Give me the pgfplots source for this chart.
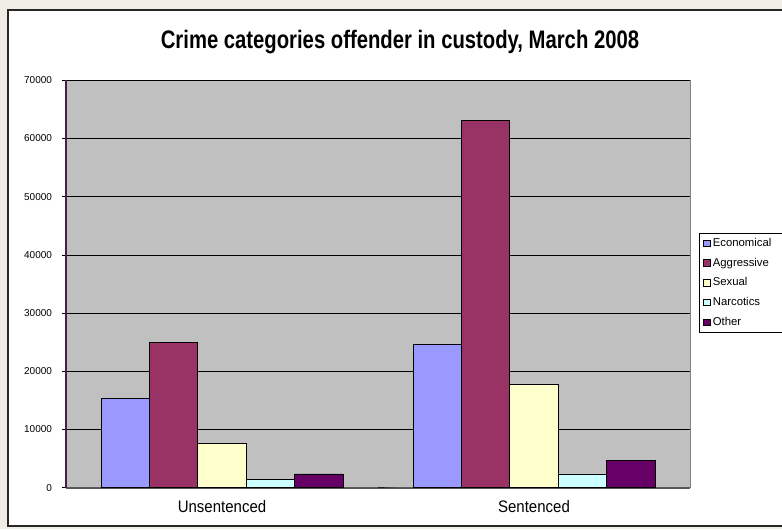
\documentclass[border=0pt]{standalone}
\usepackage{pgfplots}
\pgfplotsset{compat=1.18}
\usepackage{fontspec}
\setmainfont{Liberation Sans}

\definecolor{pagebg}{RGB}{240,238,228}
\definecolor{plotbg}{RGB}{192,192,192}
\definecolor{frame}{RGB}{40,40,40}
\definecolor{yaxis}{RGB}{70,30,70}
\definecolor{xunder}{RGB}{200,110,200}
\definecolor{econ}{HTML}{9999FF}
\definecolor{aggr}{HTML}{993366}
\definecolor{sexu}{HTML}{FFFFCC}
\definecolor{narc}{HTML}{CCFFFF}
\definecolor{othr}{HTML}{660066}

\begin{document}
\begin{tikzpicture}[x=0.75pt,y=0.75pt]
\useasboundingbox (0,0) rectangle (782,529);
\clip (0,0) rectangle (782,529);
\fill[pagebg] (0,0) rectangle (782,529);
\draw[line width=1.5pt, draw=frame, fill=white] (8,3) rectangle (830,519);
\node[font=\bfseries\fontsize{19}{20}\selectfont] at (400,487)
  {\scalebox{0.8}[1]{Crime categories offender in custody, March 2008}};

\begin{axis}[
    at={(49.5pt,31pt)}, anchor=south west,
    width=468pt, height=305.5pt, scale only axis,
    ybar=0pt, bar width=0.155,
    xmin=-0.5, xmax=1.5,
    ymin=0, ymax=70000,
    xtick={0,1},
    xticklabels={\scalebox{0.9}[1]{Unsentenced}, \scalebox{0.9}[1]{Sentenced}},
    xtick style={draw=none},
    xticklabel style={font=\fontsize{12.5}{14}\selectfont, yshift=-3pt},
    ytick={0,10000,...,70000},
    ytick align=outside, major tick length=3pt,
    ytick style={black, thin},
    yticklabel style={font=\fontsize{7.5}{9}\selectfont, xshift=-4pt},
    /pgf/number format/assume math mode=true,
    /pgf/number format/set thousands separator={},
    scaled y ticks=false,
    ymajorgrids,
    grid style={black, line width=0.6pt},
    axis background/.style={fill=plotbg, draw=gray},
    axis x line*=bottom, axis y line*=left,
    x axis line style={line width=1.6pt, draw=gray!70!black, -},
    y axis line style={line width=0.8pt, draw=yaxis, -},
    legend style={at={(1.0144,0.625)}, anchor=north west, draw=black, fill=white,
        font=\fontsize{8.5}{9}\selectfont, row sep=3.2pt, inner xsep=3pt, inner ysep=1.5pt,
        cells={anchor=west}},
    legend image code/.code={\draw[#1, draw=black, line width=0.4pt] (0pt,-2.4pt) rectangle (4.8pt,2.4pt);},
    every axis plot/.append style={draw=black, line width=0.6pt},
]
\addplot[fill=econ] coordinates {(0,15400) (1,24650)};
\addplot[fill=aggr] coordinates {(0,24900) (1,63100)};
\addplot[fill=sexu] coordinates {(0,7600) (1,17800)};
\addplot[fill=narc] coordinates {(0,1400) (1,2350)};
\addplot[fill=othr] coordinates {(0,2350) (1,4650)};
\legend{\makebox[62pt][l]{Economical}, Aggressive, Sexual, Narcotics, Other}
\draw[xunder, line width=0.8pt]
  ([yshift=-1.6pt]rel axis cs:0,0) -- ([yshift=-1.6pt]rel axis cs:1,0);
\draw[black, line width=0.6pt] (axis cs:0.5,0) -- ++(0,-4.5pt);
\end{axis}
\end{tikzpicture}
\end{document}
